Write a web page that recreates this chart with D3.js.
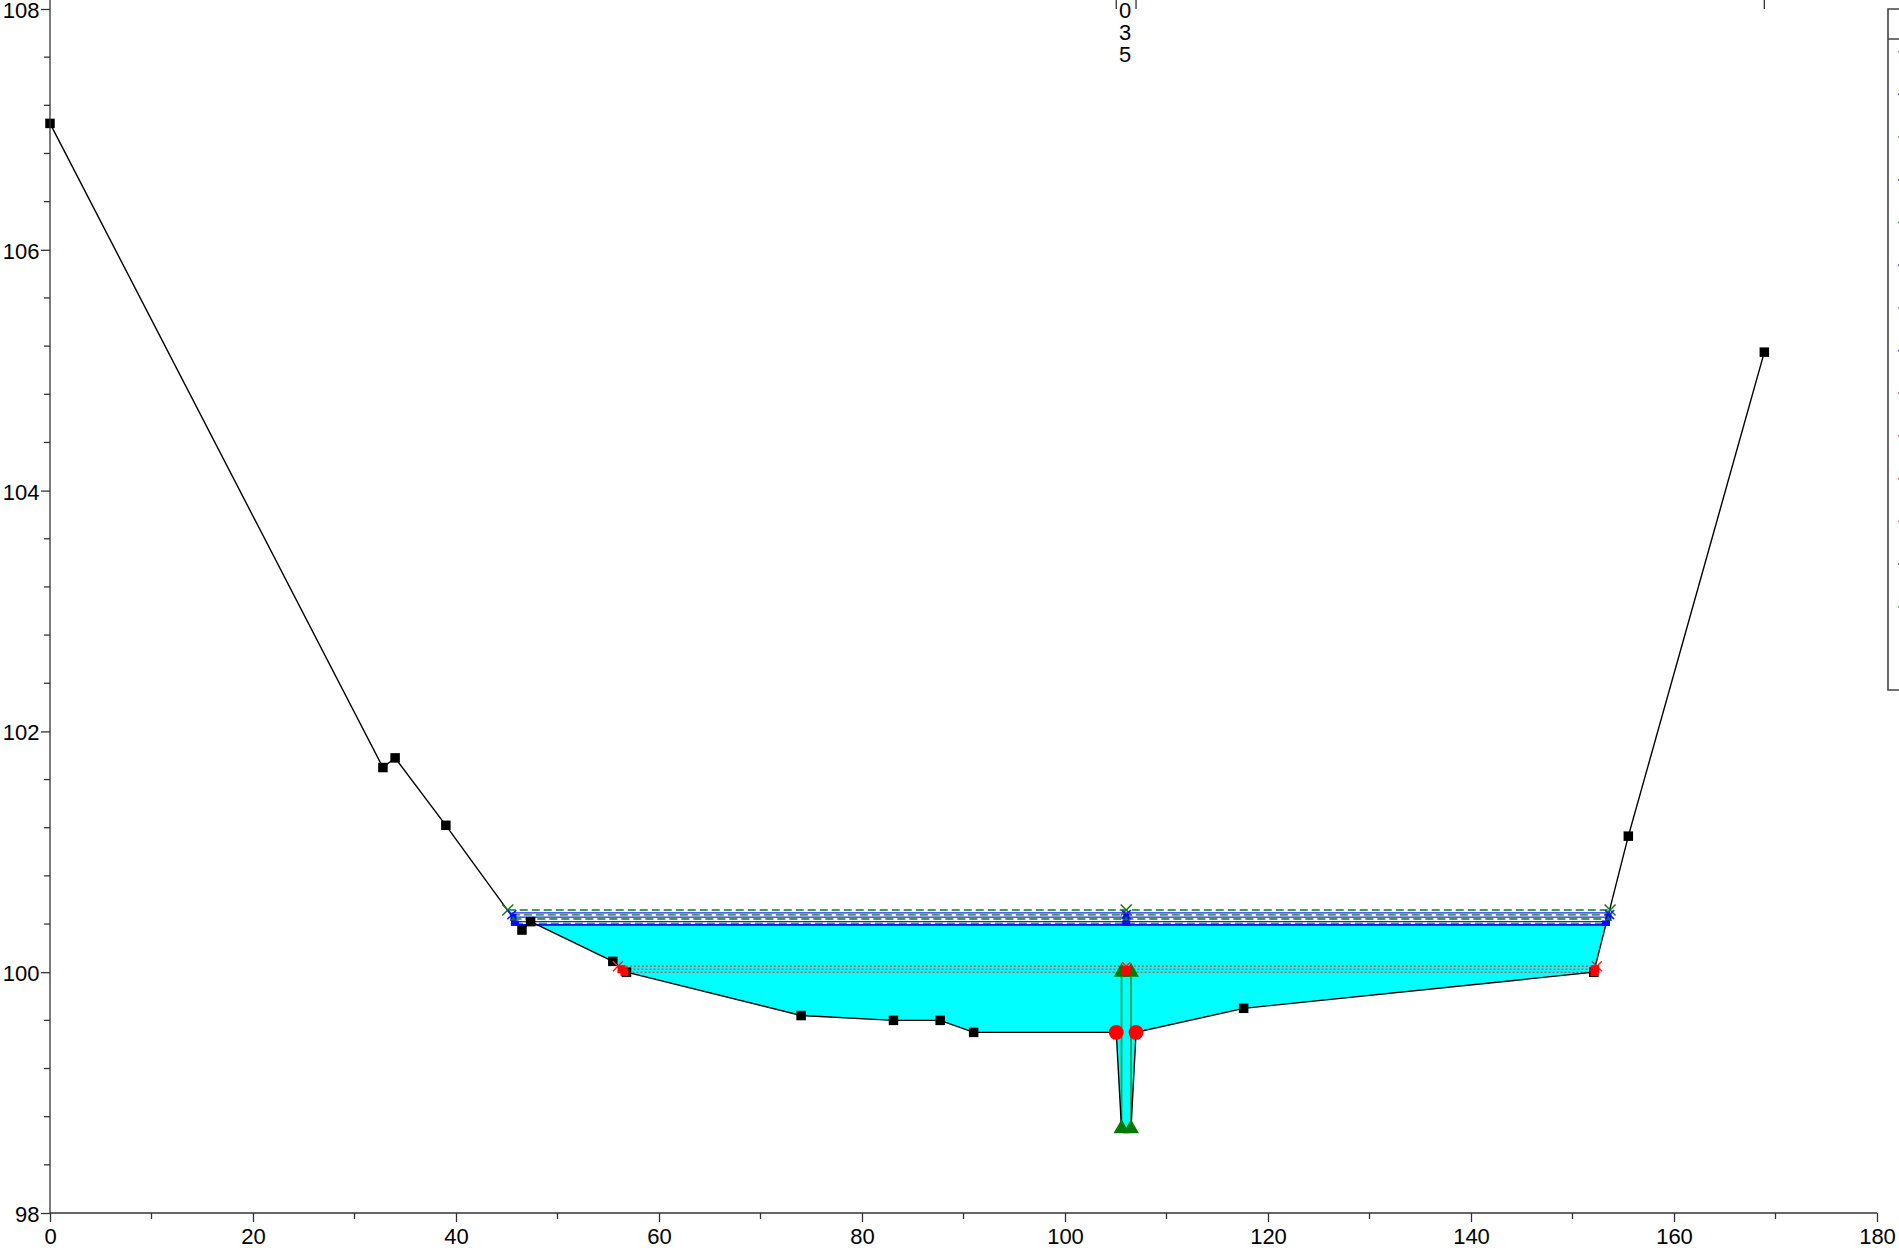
<!DOCTYPE html>
<html><head><meta charset="utf-8"><style>html,body{margin:0;background:#fff;overflow:hidden}text{font-family:"Liberation Sans",Arial,sans-serif;fill:#000}</style>
<script src="https://cdn.jsdelivr.net/npm/d3@7"></script></head><body><svg id="c" width="1899" height="1255" style="display:block"></svg>
<script>
const terrainX=[0,32.8,34,39,46.5,47.35,55.45,56.8,74,83.1,87.7,91,105.05,105.57,106.5,107,117.6,152.1,155.5,168.9];
const terrainY=[107.05,101.7,101.78,101.22,100.35,100.42,100.09,100.0,99.64,99.6,99.6,99.5,99.5,98.7,98.7,99.5,99.7,100.0,101.13,105.15];
const waterX=[47.0,47.35,55.45,56.8,74,83.1,87.7,91,105.05,105.57,106.5,107,117.6,152.1,153.3];
const waterY=[100.395,100.42,100.09,100.0,99.64,99.6,99.6,99.5,99.5,98.7,98.7,99.5,99.7,100.0,100.395];
const highLevels=[100.517,100.478,100.442,100.405];
const lowLevels=[100.05,100.025,100.0];
const highLeft=[45.1,45.5,45.65,45.8], highRight=[153.7,153.65,153.55,153.3];
const lowLeft=[55.95,56.3,56.6], lowRight=[152.4,152.25,152.15];
const channelX=[105.57,106.5], channelY=[98.7,100.0];
const bankX=[105.05,107], bankY=99.5;
const midX=106.03;
const xTicks=[0,20,40,60,80,100,120,140,160,180], yTicks=[98,100,102,104,106,108];
const xMinor=[10,30,50,70,90,110,130,150,170];
const yMinor=[98.4,98.8,99.2,99.6,100.4,100.8,101.2,101.6,102.4,102.8,103.2,103.6,104.4,104.8,105.2,105.6,106.4,106.8,107.2,107.6];
const topTicks=[105.05,107,168.9];
const topLabel=["0","3","5"];
const legendColors=["#4caf50","#3a3aff","#4caf50","#3a3aff","#2e7d32","#3a3aff","#4caf50","#3a3aff","#ff4040","#ff4040","#ff4040","#ff6080","#444","#4caf50"];
const legendRows=d3.range(1,15);

const svg=d3.select("#c");
const x=d3.scaleLinear().domain([0,180]).range([50,1877]);
const y=d3.scaleLinear().domain([98,108]).range([1213,9]);
const axisCol="#333";
const area=d3.line().x((d,i)=>x(waterX[i])).y((d,i)=>y(waterY[i]));
svg.append("path").attr("d",area(waterX)+"Z").attr("fill","#00ffff");
highLevels.forEach((l,i)=>{
 const a=x(highLeft[i]),b=x(highRight[i]);
 const hline=(yy,c,w,dash)=>svg.append("line").attr("x1",a).attr("x2",b).attr("y1",yy).attr("y2",yy).attr("stroke",c).attr("stroke-width",w).attr("stroke-dasharray",dash);
 if(i>0) hline(y(l)-1.8,"#2222ff",1.2,null);
 hline(y(l),"#3f9f55",2,"8 4");
 if(i==3) hline(y(l)+1.4,"#0a0aff",1.6,null);
});
lowLevels.forEach((l,i)=>{
 svg.append("line").attr("x1",x(lowLeft[i])).attr("x2",x(lowRight[i])).attr("y1",y(l)).attr("y2",y(l)).attr("stroke","#ff2020").attr("stroke-width",1).attr("stroke-dasharray","2 2");
});
channelX.forEach(v=>svg.append("line").attr("x1",x(v)).attr("x2",x(v)).attr("y1",y(channelY[0])).attr("y2",y(channelY[1])).attr("stroke","#22a050").attr("stroke-width",1.8));
svg.append("path").attr("fill","none").attr("stroke","#000").attr("stroke-width",1.4)
 .attr("d",d3.line().x((d,i)=>x(terrainX[i])).y((d,i)=>y(terrainY[i]))(terrainX));
svg.selectAll(".t").data(terrainX).join("rect").attr("x",d=>x(d)-4.75).attr("y",(d,i)=>y(terrainY[i])-4.75).attr("width",9.5).attr("height",9.5).attr("fill",(d,i)=>(i>=12&&i<=15)?"none":"#000");
function cross(px,py,c,s){svg.append("path").attr("d",`M${px-s},${py-s}L${px+s},${py+s}M${px-s},${py+s}L${px+s},${py-s}`).attr("stroke",c).attr("stroke-width",1.5).attr("fill","none");}
function tri(px,py,c,s){svg.append("path").attr("d",`M${px-s},${py+s*.7}L${px},${py-s*1.07}L${px+s},${py+s*.7}Z`).attr("fill",c);}
[0,1,2,3].forEach(i=>{
 [highLeft[i],midX,highRight[i]].forEach(v=>{
  const py=y(highLevels[i]);
  if(i==3) svg.append("rect").attr("x",x(v)-4).attr("y",py-3).attr("width",8).attr("height",5.5).attr("fill","#0a0aff");
  else if(i==2){svg.append("rect").attr("x",x(v)-3).attr("y",py-5).attr("width",6).attr("height",7).attr("fill","#0a0aff");tri(x(v),py,"#0a7a1a",3);}
  else if(i==1) cross(x(v),py,"#1a1aff",4.5);
  else cross(x(v),py,"#0a7a1a",5.5);
 });
});
channelX.forEach(v=>channelY.forEach(w=>tri(x(v),y(w)-1,"#007a00",8)));
[0,1,2].forEach(i=>{
 [lowLeft[i],lowRight[i]].forEach(v=>{
  if(i==0) cross(x(v),y(lowLevels[i]),"#ff2020",5);
  else svg.append("rect").attr("x",x(v)-4).attr("y",y(lowLevels[i])-4).attr("width",8).attr("height",8).attr("fill","#ff0000");
 });
});
cross(x(midX),y(100.05),"#ff2020",4);
svg.append("rect").attr("x",x(midX)-4.5).attr("y",y(100.015)-4.5).attr("width",9).attr("height",9).attr("fill","#ff0000");
bankX.forEach(v=>svg.append("circle").attr("cx",x(v)).attr("cy",y(bankY)).attr("r",7.4).attr("fill","#ff0000"));
const axX=d3.axisBottom(x).tickValues(xTicks).tickSize(9).tickSizeOuter(0).tickFormat(d3.format("d"));
const gx=svg.append("g").attr("transform",`translate(0,${y(98)})`).call(axX);
const axY=d3.axisLeft(y).tickValues(yTicks).tickSize(9).tickSizeOuter(0).tickFormat(d3.format("d"));
const gy=svg.append("g").attr("transform",`translate(${x(0)},0)`).call(axY);
[gx,gy].forEach(g=>{g.selectAll("path,line").attr("stroke",axisCol).attr("stroke-width",1.3);g.selectAll("text").attr("font-size",22).attr("font-family","Liberation Sans").attr("dy",0);});
gx.select("path").attr("d",`M${x(0)},0H${x(180)}`);
gy.select("path").attr("d",`M0,0V${y(98)}`);
gx.selectAll("text").attr("y",31);
gy.selectAll("text").attr("x",-10.5).attr("y",8.5);
svg.selectAll(".mx").data(xMinor).join("line").attr("x1",d=>x(d)).attr("x2",d=>x(d)).attr("y1",y(98)).attr("y2",y(98)+6).attr("stroke",axisCol).attr("stroke-width",1.3);
svg.selectAll(".my").data(yMinor).join("line").attr("x1",x(0)-6).attr("x2",x(0)).attr("y1",d=>y(d)).attr("y2",d=>y(d)).attr("stroke",axisCol).attr("stroke-width",1.3);
svg.selectAll(".tt").data(topTicks).join("line").attr("x1",d=>x(d)).attr("x2",d=>x(d)).attr("y1",0).attr("y2",9).attr("stroke",axisCol).attr("stroke-width",1.3);
svg.selectAll(".tl").data(topLabel).join("text").attr("x",x(midX)-1).attr("y",(d,i)=>18+i*22).attr("text-anchor","middle").attr("font-size",22).text(d=>d);
const lx=1888;
svg.append("path").attr("d",`M1899,9H${lx}V690H1899M${lx},39H1899`).attr("fill","none").attr("stroke","#444").attr("stroke-width",1.6);
svg.selectAll(".lg").data(legendRows).join("rect").attr("x",1898).attr("width",1).attr("height",1.5).attr("y",d=>8.2+d*42.7).attr("fill",(d,i)=>legendColors[i]);
</script></body></html>
